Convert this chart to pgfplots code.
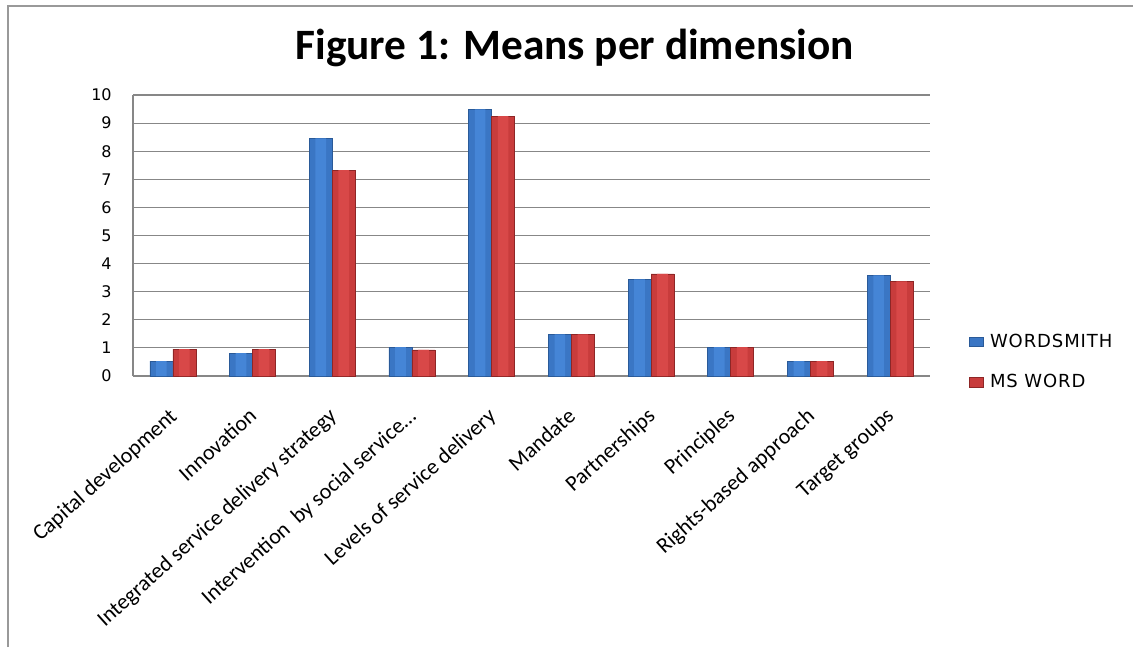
\documentclass[border=0pt]{standalone}
\usepackage{pgfplots}
\pgfplotsset{compat=1.18}
\usepackage{fontspec}
\setmainfont{Carlito}
\newfontfamily\dejavu{DejaVu Sans}
\newfontfamily\dejavuls[LetterSpace=5]{DejaVu Sans}
\definecolor{bmid}{HTML}{3A76C4}
\definecolor{blight}{HTML}{4585D6}
\definecolor{bdark}{HTML}{2A5A98}
\definecolor{rmid}{HTML}{C83C3C}
\definecolor{rlight}{HTML}{D84848}
\definecolor{rdark}{HTML}{8E2626}
\definecolor{gridc}{HTML}{878787}
\begin{document}
\begin{tikzpicture}
\path[use as bounding box] (0,0) rectangle (849.75pt,485.25pt);
\draw[color=gridc!85, line width=1.6pt] (6pt,0) -- (6pt,480.5pt) -- (849.75pt,480.5pt);
\node[font=\bfseries\fontsize{32.5}{38}\selectfont] at (431pt,449pt) {Figure 1: Means per dimension};
\begin{axis}[
  at={(99.75pt,203.25pt)}, anchor=south west,
  scale only axis, width=597.75pt, height=210.75pt,
  ybar, bar width=17.25pt,
  xmin=-0.5, xmax=9.5, ymin=0, ymax=10,
  ytick={0,1,...,10},
  xtick={0,1,...,9},
  xticklabels={Capital development, Innovation, Integrated service delivery strategy, Intervention\ \ by social service\ldots, Levels of service delivery, Mandate, Partnerships, Principles, Rights-based approach, Target groups},
  xticklabel style={rotate=42, anchor=north east, font=\fontsize{16.5}{19}\selectfont, xshift=-17pt, yshift=-13.5pt, inner sep=1pt},
  yticklabel style={font=\dejavu\fontsize{12}{14}\selectfont, xshift=-12.5pt},
  /pgf/number format/assume math mode=true,
  axis x line*=bottom, axis y line*=left,
  axis line style={gridc, line width=0.8pt},
  major tick length=0pt,
  ymajorgrids, grid style={gridc, line width=0.8pt},
  every outer x axis line/.append style={-}, every outer y axis line/.append style={-},
  legend style={at={(1.044,0.05)}, anchor=west, draw=none, fill=none, font=\dejavuls\fontsize{13.5}{15}\selectfont, row sep=15pt},
  legend cell align=left,
  legend image code/.code={\draw[#1] (0pt,-3.5pt) rectangle (10pt,3.5pt);},
]
\addplot[draw=bdark, line width=0.5pt, fill=bmid, bar shift=-8.625pt] coordinates {(0,0.53) (1,0.81) (2,8.46) (3,1.03) (4,9.49) (5,1.48) (6,3.44) (7,1.03) (8,0.53) (9,3.58)};
\addplot[draw=rdark, line width=0.5pt, fill=rmid, bar shift=8.625pt] coordinates {(0,0.96) (1,0.96) (2,7.33) (3,0.93) (4,9.25) (5,1.48) (6,3.63) (7,1.03) (8,0.53) (9,3.37)};
\legend{\hspace{3pt}WORDSMITH, \hspace{3pt}MS WORD}
\addplot[forget plot, draw=none, fill=blight, bar width=8pt, bar shift=-8.625pt] coordinates {(0,0.53) (1,0.81) (2,8.46) (3,1.03) (4,9.49) (5,1.48) (6,3.44) (7,1.03) (8,0.53) (9,3.58)};
\addplot[forget plot, draw=none, fill=rlight, bar width=8pt, bar shift=8.625pt] coordinates {(0,0.96) (1,0.96) (2,7.33) (3,0.93) (4,9.25) (5,1.48) (6,3.63) (7,1.03) (8,0.53) (9,3.37)};
\end{axis}
\end{tikzpicture}
\end{document}
